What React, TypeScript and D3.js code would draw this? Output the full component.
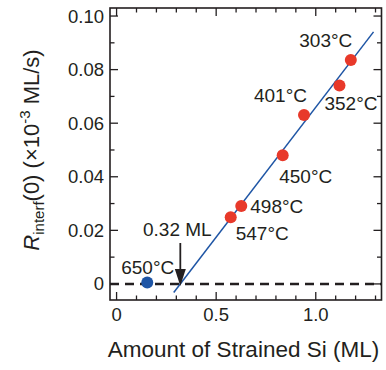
import React from "react";
import * as d3 from "d3";

// Measured interfacial rate vs. amount of strained Si, one point per growth temperature
const temperatures = ["303°C", "352°C", "401°C", "450°C", "498°C", "547°C", "650°C"];
const strainedSi = [1.176, 1.119, 0.941, 0.834, 0.626, 0.573, 0.154];
const rateValues = [0.0836, 0.0741, 0.0631, 0.048, 0.0291, 0.0249, 0.0005];

// Linear fit through the strained points
const fitSlope = 0.097;
const fitIntercept = 0.32; // ML, where the fit crosses zero
const fitRange = [0.287, 1.29];

const xTickValues = [0, 0.5, 1.0];
const xTickLabels = ["0", "0.5", "1.0"];
const yTickValues = [0, 0.02, 0.04, 0.06, 0.08, 0.1];
const yTickLabels = ["0", "0.02", "0.04", "0.06", "0.08", "0.10"];

const W = 386;
const H = 370;
const frame = { left: 110, right: 381.5, top: 8, bottom: 300 };

const ink = "#231f20";
const red = "#e8392a";
const blue = "#1e55a5";
const font = "Liberation Sans, Arial, Helvetica, sans-serif";

// label offsets (px) relative to each point: [dx, dy, anchor]
const labelPlacement: [number, number, string][] = [
  [1.5, -13, "end"],
  [-15, 25, "start"],
  [3, -13, "end"],
  [-3.5, 28, "start"],
  [9, 7, "start"],
  [5, 23, "start"],
  [-26, -9, "start"],
];

export default function App() {
  const x = d3.scaleLinear().domain([-0.033, 1.33]).range([frame.left, frame.right]);
  const y = d3.scaleLinear().domain([-0.006, 0.103]).range([frame.bottom, frame.top]);

  const xMinor = d3.range(0, 1.31, 0.1);
  const yMinor = d3.range(0, 0.1001, 0.01);
  const isMajorX = (v: number) => xTickValues.some((t) => Math.abs(t - v) < 1e-6);
  const isMajorY = (v: number) => yTickValues.some((t) => Math.abs(t - v) < 1e-6);

  const fitLine = d3
    .line<number>()
    .x((d) => x(d))
    .y((d) => y(fitSlope * (d - fitIntercept)));

  const arrowX = x(fitIntercept);
  const zeroY = y(0);

  return (
    <svg width={W} height={H} style={{ display: "block", position: "absolute", left: 0, top: 0 }}>
      <rect width={W} height={H} fill="#fff" />

      {/* zero baseline */}
      <line
        x1={frame.left}
        x2={frame.right}
        y1={zeroY}
        y2={zeroY}
        stroke={ink}
        strokeWidth={2.4}
        strokeDasharray="9,6"
      />

      {/* fit line */}
      <path d={fitLine(fitRange) || ""} fill="none" stroke={blue} strokeWidth={1.5} />

      {/* ticks on all four sides, pointing inward */}
      {xMinor.map((v, i) => {
        const len = isMajorX(v) ? 8 : 4.5;
        return (
          <g key={"xt" + i} stroke={ink} strokeWidth={1.3}>
            <line x1={x(v)} x2={x(v)} y1={frame.bottom} y2={frame.bottom - len} />
            <line x1={x(v)} x2={x(v)} y1={frame.top} y2={frame.top + len} />
          </g>
        );
      })}
      {yMinor.map((v, i) => {
        const len = isMajorY(v) ? 8 : 4.5;
        return (
          <g key={"yt" + i} stroke={ink} strokeWidth={1.3}>
            <line x1={frame.left} x2={frame.left + len} y1={y(v)} y2={y(v)} />
            <line x1={frame.right} x2={frame.right - len} y1={y(v)} y2={y(v)} />
          </g>
        );
      })}

      {/* frame */}
      <rect
        x={frame.left}
        y={frame.top}
        width={frame.right - frame.left}
        height={frame.bottom - frame.top}
        fill="none"
        stroke={ink}
        strokeWidth={1.6}
      />

      {/* tick labels */}
      {yTickValues.map((v, i) => (
        <text
          key={"yl" + i}
          x={frame.left - 6}
          y={y(v) + 6.5}
          textAnchor="end"
          fontFamily={font}
          fontSize={18.5}
          fill={ink}
        >
          {yTickLabels[i]}
        </text>
      ))}
      {xTickValues.map((v, i) => (
        <text
          key={"xl" + i}
          x={x(v)}
          y={321}
          textAnchor="middle"
          fontFamily={font}
          fontSize={18.5}
          fill={ink}
        >
          {xTickLabels[i]}
        </text>
      ))}

      {/* points */}
      {strainedSi.map((v, i) => (
        <circle
          key={"p" + i}
          cx={x(v)}
          cy={y(rateValues[i])}
          r={6}
          fill={i === strainedSi.length - 1 ? blue : red}
        />
      ))}

      {/* temperature labels */}
      {strainedSi.map((v, i) => {
        const [dx, dy, anchor] = labelPlacement[i];
        return (
          <text
            key={"tl" + i}
            x={x(v) + dx}
            y={y(rateValues[i]) + dy}
            textAnchor={anchor as any}
            fontFamily={font}
            fontSize={19}
            fill={ink}
          >
            {temperatures[i]}
          </text>
        );
      })}

      {/* arrow marking the zero crossing */}
      <line x1={arrowX} x2={arrowX} y1={243} y2={272} stroke={ink} strokeWidth={1.8} />
      <path
        d={`M${arrowX - 5.5},${269} L${arrowX + 5.5},${269} L${arrowX},${zeroY + 2} Z`}
        fill={ink}
      />
      <text x={arrowX - 3} y={236} textAnchor="middle" fontFamily={font} fontSize={19} fill={ink}>
        {fitIntercept.toFixed(2)} ML
      </text>

      {/* axis titles */}
      <text
        x={243.5}
        y={357}
        textAnchor="middle"
        fontFamily={font}
        fontSize={22.5}
        fill={ink}
      >
        Amount of Strained Si (ML)
      </text>
      <text
        transform={`translate(39, ${150}) rotate(-90)`}
        textAnchor="middle"
        fontFamily={font}
        fontSize={22}
        fill={ink}
      >
        <tspan fontStyle="italic">R</tspan>
        <tspan fontSize={15} dy={5}>
          interf
        </tspan>
        <tspan dy={-5}>(0) (×10</tspan>
        <tspan fontSize={15} dy={-9}>
          -3
        </tspan>
        <tspan dy={9}> ML/s)</tspan>
      </text>
    </svg>
  );
}
